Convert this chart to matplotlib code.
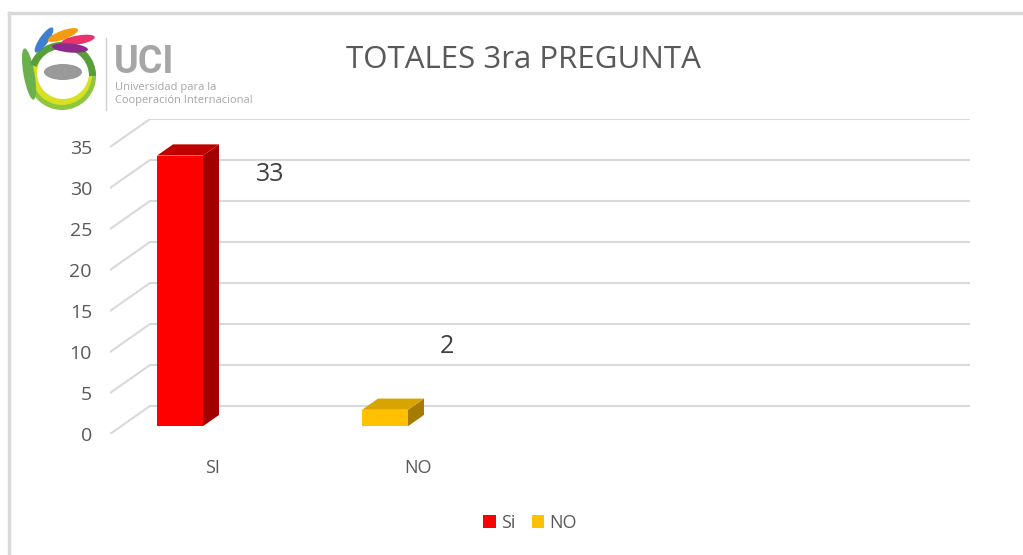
import matplotlib
matplotlib.use("Agg")
import matplotlib.pyplot as plt
from matplotlib.patches import Polygon, Patch, Circle, Ellipse, Wedge
from matplotlib.lines import Line2D

plt.rcParams['font.family'] = ['Open Sans', 'DejaVu Sans']

# ---------------------------------------------------------------------------
# Data
# ---------------------------------------------------------------------------
title = "TOTALES 3ra PREGUNTA"
categories = ["SI", "NO"]
series_names = ["Si", "NO"]
values = [33, 2]
front_colors = ["#ff0000", "#ffc000"]
top_colors = ["#c00000", "#d9a400"]
side_colors = ["#a00000", "#a67c00"]
y_ticks = [0, 5, 10, 15, 20, 25, 30, 35]
label_offsets = [(90, -19), (62, 63)]   # data label offsets in px from bar top

# ---------------------------------------------------------------------------
# Layout of the fake 3D (oblique projection)
# ---------------------------------------------------------------------------
n_slots = 4            # category slots along the floor
DX = 40 / 205          # depth shift in category units
DY = 28 / 8.2          # depth shift in value units
ymax = 35
bar_off, bar_w = -0.325, 0.224
d_front, d_back = 0.28, 0.68


def proj(x, v, d):
    return (x + d * DX, v + d * DY)


W, H = 1023, 555
fig = plt.figure(figsize=(W / 100, H / 100), dpi=100)

# plot area in pixels
left_px, right_px = 110, 110 + (n_slots + DX) * 205
bot_px = 434
top_px = bot_px - (ymax + DY) * 8.2
ax = fig.add_axes([left_px / W, (H - bot_px) / H,
                   (right_px - left_px) / W, (bot_px - top_px) / H])
ax.set_xlim(-0.5, n_slots - 0.5 + DX)
ax.set_ylim(0, ymax + DY)
for s in ax.spines.values():
    s.set_visible(False)

grid_c = "#d9d9d9"
for v in y_ticks:
    x0, y0 = proj(-0.5, v, 0)
    x1, y1 = proj(-0.5, v, 1)
    x2, y2 = proj(n_slots - 0.5, v, 1)
    ax.plot([x0, x1, x2], [y0, y1, y2], color=grid_c, lw=1.5,
            solid_joinstyle="miter", zorder=1)

ax.set_yticks(y_ticks)
ax.set_yticklabels([str(t) for t in y_ticks])
ax.tick_params(axis="y", length=0, pad=13, labelsize=14, labelcolor="#595959")
ax.set_xticks(range(len(categories)))
ax.set_xticklabels(categories)
ax.tick_params(axis="x", length=0, pad=18, labelsize=13, labelcolor="#595959")

for i, v in enumerate(values):
    xl = i + bar_off
    xr = xl + bar_w
    front = [proj(xl, 0, d_front), proj(xr, 0, d_front),
             proj(xr, v, d_front), proj(xl, v, d_front)]
    top = [proj(xl, v, d_front), proj(xr, v, d_front),
           proj(xr, v, d_back), proj(xl, v, d_back)]
    side = [proj(xr, 0, d_front), proj(xr, 0, d_back),
            proj(xr, v, d_back), proj(xr, v, d_front)]
    ax.add_patch(Polygon(side, closed=True, fc=side_colors[i], ec="none", zorder=3))
    ax.add_patch(Polygon(top, closed=True, fc=top_colors[i], ec="none", zorder=3))
    ax.add_patch(Polygon(front, closed=True, fc=front_colors[i], ec="none", zorder=4))
    tx, ty = proj(xl + bar_w / 2, v, d_front)
    ax.annotate(str(v), (tx, ty), xytext=label_offsets[i], textcoords="offset pixels",
                ha="center", va="center", fontsize=18, color="#404040", zorder=5)

# title
fig.text(523 / W, 1 - 60 / H, title, ha="center", va="center",
         fontsize=22.5, color="#595959")

# legend
handles = [Patch(fc=c, ec="none") for c in front_colors]
fig.legend(handles, series_names, loc="center", bbox_to_anchor=(530 / W, 1 - 523 / H),
           ncol=2, frameon=False, fontsize=13, handlelength=0.7, handleheight=0.7,
           handletextpad=0.3, columnspacing=0.9, labelcolor="#595959")

# chart frame (top and left edges)
fig.add_artist(Line2D([9 / W, 1], [1 - 13 / H, 1 - 13 / H], color="#d9d9d9", lw=2.5))
fig.add_artist(Line2D([9 / W, 9 / W], [0, 1 - 13 / H], color="#d9d9d9", lw=2.5))

# ---------------------------------------------------------------------------
# UCI logo (simplified)
# ---------------------------------------------------------------------------
lax = fig.add_axes([0, 1 - 115 / H, 260 / W, 90 / H])
lax.set_xlim(0, 260)
lax.set_ylim(115, 25)
lax.set_aspect("equal")
lax.axis("off")
lax.add_patch(Circle((62, 76), 34, fc="#8dc63f", ec="none"))
lax.add_patch(Circle((62, 75), 30, fc="#d7e021", ec="none"))
lax.add_patch(Circle((63, 73), 26, fc="white", ec="none"))
lax.add_patch(Ellipse((63, 72), 38, 16, fc="#9a9a9a", ec="none"))
lax.add_patch(Ellipse((29, 74), 11, 52, angle=-10, fc="#6ab04c", ec="none"))
lax.add_patch(Wedge((62, 76), 34, 200, 360, width=7, fc="#5a9e3a", ec="none"))
lax.add_patch(Ellipse((44, 40), 30, 9, angle=-55, fc="#3f7fd0", ec="none"))
lax.add_patch(Ellipse((63, 35), 32, 9, angle=-20, fc="#f39c12", ec="none"))
lax.add_patch(Ellipse((78, 40), 34, 9, angle=-10, fc="#e8336d", ec="none"))
lax.add_patch(Ellipse((70, 48), 36, 9, angle=5, fc="#8e2a8c", ec="none"))
lax.plot([106, 106], [38, 110], color="#d0d0d0", lw=1)
lax.text(114, 73, "UCI", fontsize=27, fontweight="bold", color="#a6a6a6",
         ha="left", va="baseline", family=["Roboto", "DejaVu Sans"])
lax.text(115, 90, "Universidad para la", fontsize=8, color="#a6a6a6",
         ha="left", va="baseline")
lax.text(115, 103, "Cooperación Internacional", fontsize=8, color="#a6a6a6",
         ha="left", va="baseline")

fig.savefig("out.png", dpi=100)
